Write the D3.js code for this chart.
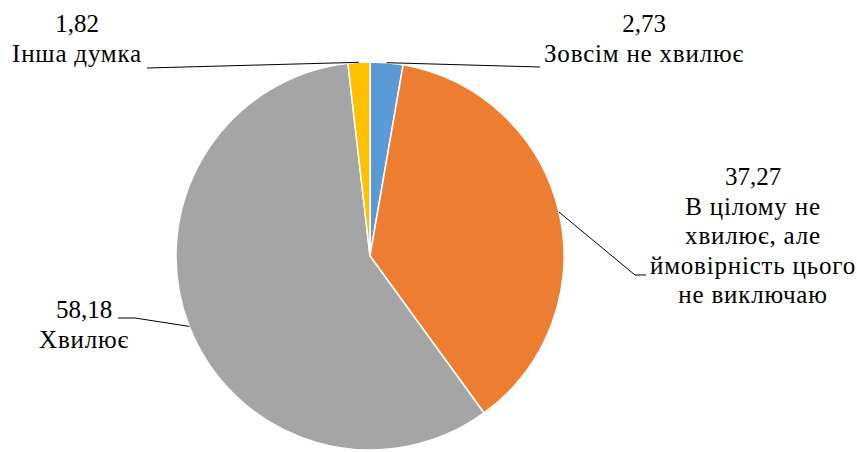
<!DOCTYPE html>
<html>
<head>
<meta charset="utf-8">
<script src="https://cdn.jsdelivr.net/npm/d3@7"></script>
<style>
  html, body { margin: 0; padding: 0; background: #fff; }
  svg { display: block; }
</style>
</head>
<body>
<div id="chart"></div>
<script>
// data
var categories = ["Зовсім не хвилює", "В цілому не хвилює, але ймовірність цього не виключаю", "Хвилює", "Інша думка"];
var values = [2.73, 37.27, 58.18, 1.82];
var labelLines = [
    ["2,73", "Зовсім не хвилює"],
    ["37,27", "В цілому не", "хвилює, але", "ймовірність цього", "не виключаю"],
    ["58,18", "Хвилює"],
    ["1,82", "Інша думка"]
];
var colors = ["#5B9BD5", "#ED7D31", "#A5A5A5", "#FFC000"];

// label layout: block centre x, first baseline y, leader end points
var labelPos = [
    { x: 644, y: 32, leader: [[540, 67]] },
    { x: 753, y: 185, leader: [[635, 275], [646, 275]] },
    { x: 84, y: 318, leader: [[135, 318], [118, 318]] },
    { x: 77, y: 32, leader: [[147, 68]] }
];

var width = 857, height = 452;
var cx = 370, cy = 256, radius = 194;
var lineH = 29.6;

var svg = d3.select("#chart").append("svg")
    .attr("width", width)
    .attr("height", height);

var g = svg.append("g").attr("transform", "translate(" + cx + "," + cy + ")");

var pie = d3.pie().sort(null).value(function(d) { return d; });
var arcs = pie(values);

var arc = d3.arc().innerRadius(0).outerRadius(radius);
var rim = d3.arc().innerRadius(radius).outerRadius(radius);

g.selectAll("path.slice")
    .data(arcs)
    .enter().append("path")
    .attr("class", "slice")
    .attr("d", arc)
    .attr("fill", function(d, i) { return colors[i]; })
    .attr("stroke", "#fff")
    .attr("stroke-width", 1.5)
    .attr("stroke-linejoin", "round");

// leader lines
var line = d3.line();
svg.selectAll("path.leader")
    .data(arcs)
    .enter().append("path")
    .attr("class", "leader")
    .attr("fill", "none")
    .attr("stroke", "#000")
    .attr("stroke-width", 1)
    .attr("d", function(d, i) {
        var c = rim.centroid(d);
        var pts = [[cx + c[0], cy + c[1]]].concat(labelPos[i].leader);
        return line(pts);
    });

// labels
var labels = svg.selectAll("text.lbl")
    .data(arcs)
    .enter().append("text")
    .attr("class", "lbl")
    .attr("text-anchor", "middle")
    .attr("font-family", "Liberation Serif")
    .attr("font-size", 25)
    .attr("fill", "#000");

labels.each(function(d, i) {
    var t = d3.select(this);
    labelLines[i].forEach(function(s, k) {
        t.append("tspan")
            .attr("x", labelPos[i].x)
            .attr("y", labelPos[i].y + k * lineH)
            .attr("letter-spacing", k > 0 ? 0.8 : 0)
            .text(s);
    });
});
</script>
</body>
</html>
